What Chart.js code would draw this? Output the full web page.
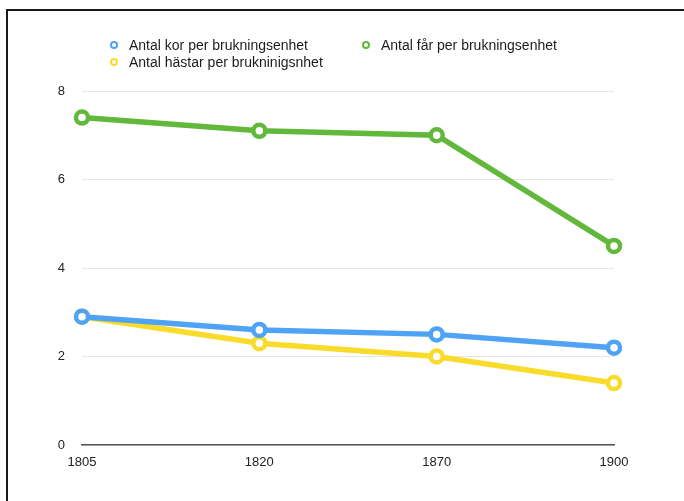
<!DOCTYPE html>
<html>
<head>
<meta charset="utf-8">
<script src="https://cdn.jsdelivr.net/npm/chart.js@4.4.1/dist/chart.umd.min.js"></script>
<style>
  html,body{margin:0;padding:0;background:#fff;}
  body{width:684px;height:501px;position:relative;overflow:hidden;font-family:"Liberation Sans",Arial,sans-serif;}
  #frame{position:absolute;left:6px;top:9px;right:0;bottom:0;border-top:2px solid #1a1a1a;border-left:2px solid #1a1a1a;}
  #wrap{position:absolute;left:0;top:0;width:684px;height:501px;}
  .lg{position:absolute;font-size:14px;color:#1c1c1c;white-space:nowrap;line-height:16px;}
  .lg i{position:absolute;left:-19px;top:4px;width:4px;height:4px;border-radius:50%;border:2.5px solid;background:#fff;}
</style>
</head>
<body>
<div id="frame"></div>
<div id="wrap"><canvas id="c" width="684" height="501"></canvas></div>
<div id="legend"></div>
<script>
// data
var years=["1805","1820","1870","1900"];
var kor=[2.9,2.6,2.5,2.2];
var far=[7.4,7.1,7.0,4.5];
var hastar=[2.9,2.3,2.0,1.4];
var names=["Antal kor per brukningsenhet","Antal får per brukningsenhet","Antal hästar per brukninigsnhet"];
var cols=["#4fa3f5","#62b83a","#f9db2b"];

// legend (html, placed like the original)
var lpos=[[129,37],[381,37],[129,54]];
var lg=document.getElementById("legend");
names.forEach(function(n,i){
  var d=document.createElement("div");
  d.className="lg";
  d.style.left=lpos[i][0]+"px";d.style.top=lpos[i][1]+"px";
  d.innerHTML="<i style='border-color:"+cols[i]+"'></i>"+n;
  lg.appendChild(d);
});

function ds(lbl,data,col){
  return{
    label:lbl,data:data,borderColor:col,backgroundColor:"#fff",
    borderWidth:5.5,pointRadius:6,pointBorderWidth:4.5,pointBackgroundColor:"#fff",
    pointBorderColor:col,tension:0,fill:false
  };
}

new Chart(document.getElementById("c"),{
  type:"line",
  data:{
    labels:years,
    datasets:[ds(names[0],kor,cols[0]),ds(names[1],far,cols[1]),ds(names[2],hastar,cols[2])]
  },
  options:{
    responsive:false,
    animation:false,
    layout:{padding:{top:91,right:70,bottom:0,left:0}},
    plugins:{legend:{display:false},tooltip:{enabled:false}},
    scales:{
      x:{
        grid:{display:false,drawTicks:false},
        border:{display:true,color:"#555",width:1.5},
        ticks:{color:"#222",font:{family:"Liberation Sans",size:13},padding:10,maxRotation:0},
        afterFit:function(s){s.height=56;}
      },
      y:{
        min:0,max:8,
        grid:{color:"#e6e6e6",drawTicks:false,lineWidth:1},
        border:{display:false},
        ticks:{stepSize:2,color:"#222",font:{family:"Liberation Sans",size:13},padding:17},
        afterFit:function(s){s.width=82;}
      }
    }
  }
});
</script>
</body>
</html>
